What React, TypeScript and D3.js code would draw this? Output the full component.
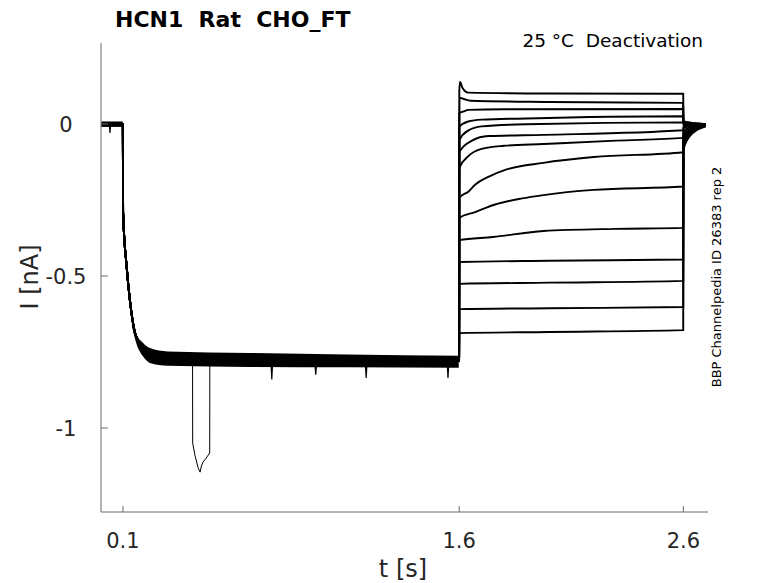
import { scaleLinear, line as d3_line, area as d3_area, curveMonotoneX, curveLinear } from "d3";

// axis ticks
const tTicks = [0.1, 1.6, 2.6];
const iTicks = [0, -0.5, -1];

// holding level before the prepulse [t, I]
const holdingPoints: [number, number][] = [
  [0.003, 0.0],
  [0.0995, 0.0],
];

// hyperpolarising prepulse, shared by every sweep [t, I]
const prepulsePoints: [number, number][] = [
  [0.1005, -0.29],
  [0.1165, -0.47],
  [0.131, -0.58],
  [0.154, -0.688],
  [0.176, -0.72],
  [0.22, -0.743],
  [0.279, -0.76],
  [0.4, -0.772],
  [1.0, -0.777],
  [1.5995, -0.78],
];

// noise envelopes [t, upper, lower]
const baselineBand: [number, number, number][] = [
  [0.003, 0.008, -0.01],
  [0.0995, 0.008, -0.01],
];
const prepulseBand: [number, number, number][] = [
  [0.14, -0.64, -0.665],
  [0.162, -0.694, -0.727],
  [0.19, -0.72, -0.765],
  [0.22, -0.737, -0.786],
  [0.3, -0.748, -0.795],
  [0.667, -0.753, -0.799],
  [1.1, -0.758, -0.8],
  [1.598, -0.762, -0.802],
];

// test pulses, one list per sweep [t, I]
const testPhase: [number, number][][] = [
  [[1.6005, 0.11], [1.604, 0.138], [1.615, 0.118], [1.64, 0.103], [2.0, 0.1], [2.5995, 0.099]],
  [[1.6005, 0.086], [1.62, 0.082], [1.65, 0.076], [2.0, 0.072], [2.5995, 0.069]],
  [[1.6005, 0.036], [1.62, 0.041], [1.64, 0.046], [1.8, 0.048], [2.5995, 0.049]],
  [[1.6005, -0.01], [1.64, 0.008], [1.7, 0.014], [1.9, 0.018], [2.5995, 0.025]],
  [[1.6005, -0.053], [1.64, -0.022], [1.7, -0.008], [1.9, -0.001], [2.5995, 0.005]],
  [[1.6005, -0.092], [1.657, -0.055], [1.73, -0.04], [1.976, -0.036], [2.5995, -0.021]],
  [[1.6005, -0.145], [1.642, -0.105], [1.7, -0.082], [1.8, -0.072], [1.976, -0.066], [2.3, -0.055], [2.5995, -0.046]],
  [[1.6005, -0.243], [1.642, -0.222], [1.671, -0.2], [1.73, -0.174], [1.805, -0.151], [1.976, -0.128], [2.2, -0.109], [2.5995, -0.093]],
  [[1.6005, -0.309], [1.671, -0.29], [1.76, -0.265], [1.88, -0.245], [1.976, -0.234], [2.2, -0.217], [2.5995, -0.206]],
  [[1.6005, -0.382], [1.75, -0.372], [1.976, -0.352], [2.3, -0.345], [2.5995, -0.342]],
  [[1.6005, -0.454], [2.0, -0.45], [2.5995, -0.446]],
  [[1.6005, -0.526], [2.0, -0.522], [2.5995, -0.516]],
  [[1.6005, -0.609], [2.0, -0.606], [2.5995, -0.602]],
  [[1.6005, -0.688], [2.0, -0.684], [2.5995, -0.678]],
];

// tail currents back at holding
const tailTimes = [2.6005, 2.625, 2.7];
const tailStart = [0.008, 0.006, 0.003, 0, -0.004, -0.008, -0.014, -0.024, -0.034, -0.044, -0.054, -0.064, -0.074, -0.086];
const tailMid = [0.005, 0.004, 0.002, -0.001, -0.003, -0.005, -0.008, -0.013, -0.018, -0.023, -0.028, -0.033, -0.038, -0.044];
const tailEnd = [-0.001, -0.001, -0.002, -0.002, -0.003, -0.003, -0.004, -0.004, -0.005, -0.005, -0.006, -0.006, -0.007, -0.008];

// artefacts: a transient dip in one sweep and brief spikes [t, base, peak]
const dipPoints: [number, number][] = [
  [0.4105, -0.79], [0.411, -1.049], [0.421, -1.089], [0.435, -1.13], [0.444, -1.145],
  [0.45, -1.125], [0.457, -1.112], [0.47, -1.1], [0.487, -1.082], [0.4875, -0.79],
];
const spikes: [number, number, number][] = [
  [0.042, 0.0, -0.03],
  [0.764, -0.795, -0.84],
  [0.96, -0.795, -0.825],
  [1.185, -0.795, -0.835],
  [1.55, -0.795, -0.835],
];

const W = 778;
const H = 583;
const font = "DejaVu Sans, sans-serif";
const axisColor = "#6b6b6b";
const textColor = "#262626";

export default function App() {
  const x = scaleLinear().domain([0.002, 2.71]).range([101, 708]);
  const y = scaleLinear().domain([-1.276, 0.266]).range([512, 43]);

  const trace = d3_line<[number, number]>()
    .x((d) => x(d[0]))
    .y((d) => y(d[1]))
    .curve(curveMonotoneX);

  const thin = d3_line<[number, number]>()
    .x((d) => x(d[0]))
    .y((d) => y(d[1]))
    .curve(curveLinear);

  const band = d3_area<[number, number, number]>()
    .x((d) => x(d[0]))
    .y0((d) => y(d[2]))
    .y1((d) => y(d[1]))
    .curve(curveMonotoneX);

  const sweeps = testPhase.map((test, i) => [
    ...holdingPoints,
    ...prepulsePoints,
    ...test,
    [tailTimes[0], tailStart[i]] as [number, number],
    [tailTimes[1], tailMid[i]] as [number, number],
    [tailTimes[2], tailEnd[i]] as [number, number],
  ]);

  const [x0, x1] = x.range();
  const [yb, yt] = y.range();

  return (
    <svg width={W} height={H} style={{ position: "fixed", left: 0, top: 0, background: "#fff" }}>
      {/* noise envelopes */}
      <path d={band(baselineBand) ?? ""} fill="#000" />
      <path d={band(prepulseBand) ?? ""} fill="#000" />

      {/* sweeps */}
      {sweeps.map((s, i) => (
        <path key={i} d={trace(s) ?? ""} fill="none" stroke="#000" strokeWidth={1.9} />
      ))}

      {/* artefacts */}
      <path d={thin(dipPoints) ?? ""} fill="none" stroke="#000" strokeWidth={1} />
      {spikes.map(([t, base, peak], i) => (
        <path
          key={i}
          d={thin([[t - 0.003, base], [t, peak], [t + 0.003, base]]) ?? ""}
          fill="none"
          stroke="#000"
          strokeWidth={1.2}
        />
      ))}

      {/* axes */}
      <line x1={x0} x2={x0} y1={yt} y2={yb} stroke={axisColor} strokeWidth={1} />
      <line x1={x0} x2={x1} y1={yb} y2={yb} stroke={axisColor} strokeWidth={1} />
      {tTicks.map((t) => (
        <g key={t}>
          <line x1={x(t)} x2={x(t)} y1={yb} y2={yb - 6} stroke={axisColor} />
          <text x={x(t)} y={yb + 36} textAnchor="middle" fontFamily={font} fontSize={21} fill={textColor}>
            {t}
          </text>
        </g>
      ))}
      {iTicks.map((v) => (
        <g key={v}>
          <line x1={x0} x2={x0 + 7} y1={y(v)} y2={y(v)} stroke={axisColor} />
          <text x={66} y={y(v) + 8} textAnchor="middle" fontFamily={font} fontSize={21} fill={textColor}>
            {v}
          </text>
        </g>
      ))}

      {/* labels */}
      <text x={403} y={577} textAnchor="middle" fontFamily={font} fontSize={24} fill={textColor}>
        t [s]
      </text>
      <text
        transform={`translate(38,277) rotate(-90)`}
        textAnchor="middle"
        fontFamily={font}
        fontSize={24}
        fill={textColor}
      >
        I [nA]
      </text>
      <text x={115} y={27} fontFamily={font} fontSize={22} fontWeight="bold" fill="#000" style={{ whiteSpace: "pre" }}>
        {"HCN1  Rat  CHO_FT"}
      </text>
      <text x={703} y={47} textAnchor="end" fontFamily={font} fontSize={18.5} fill="#000" style={{ whiteSpace: "pre" }}>
        {"25 °C  Deactivation"}
      </text>
      <text
        transform={`translate(721,277) rotate(-90)`}
        textAnchor="middle"
        fontFamily={font}
        fontSize={13}
        fill="#000"
      >
        BBP Channelpedia ID 26383 rep 2
      </text>
    </svg>
  );
}
